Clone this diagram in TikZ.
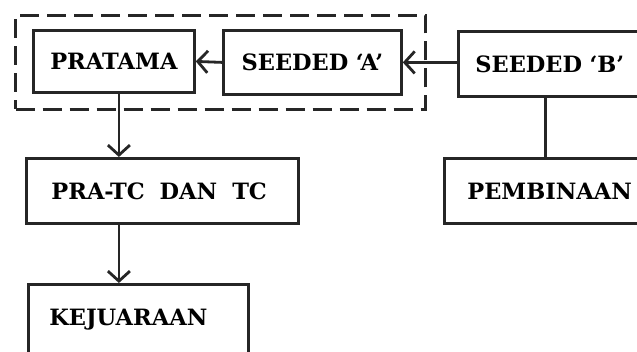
\documentclass[tikz,border=0pt]{standalone}
\usepackage{fontspec}
\setmainfont{DejaVu Serif}
\usetikzlibrary{arrows.meta,calc}
\begin{document}
\begin{tikzpicture}[x=1pt,y=-1pt,
  boxc/.style={draw=black!85,line width=2.8pt,rectangle,inner sep=0pt,anchor=north west,
    font=\fontsize{22.5}{25}\selectfont\bfseries,align=center},
  boxl/.style={boxc,align=left},
  arr/.style={draw=black!85,line width=2.8pt,-{Straight Barb[length=10pt,width=22pt,line width=2.8pt]}},
  lin/.style={draw=black!85,line width=2.8pt},
  grp/.style={draw=black!85,line width=3pt,dash pattern=on 19pt off 8pt}]
\useasboundingbox (0,0) rectangle (637,352);
\clip (0,0) rectangle (637,352);
\fill[white] (0,0) rectangle (637,352);
\node[grp,minimum width=410pt,minimum height=94pt,inner sep=0pt,anchor=north west] (grp) at (14,14) {};
\node[boxc,minimum width=161pt,minimum height=62pt,text width=161pt] (pratama) at (32,29) {PRATAMA};
\node[boxc,minimum width=178pt,minimum height=64pt,text width=178pt] (seedA) at (222,29) {SEEDED `A'};
\node[boxl,minimum width=200pt,minimum height=65pt,text width=166pt] (seedB) at (457,30) {SEEDED `B'};
\node[boxl,minimum width=272pt,minimum height=65pt,text width=222pt] (pratc) at (25,157) {PRA-TC\ \ DAN\ \ TC};
\node[boxl,minimum width=220pt,minimum height=70pt,text width=178pt] (kej) at (27,283) {KEJUARAAN};
\node[boxl,minimum width=220pt,minimum height=65pt,text width=174pt] (pemb) at (443,157) {PEMBINAAN};
\draw[arr] (seedA.west) -- (pratama.east);
\draw[arr] (seedB.west |- seedA.east) -- (seedA.east);
\coordinate (c1) at ($(pratama.south)+(5,0)$);
\draw[arr] (c1) -- (c1 |- pratc.north);
\coordinate (c2) at (c1 |- pratc.south);
\draw[arr] (c2) -- (c2 |- kej.north);
\coordinate (c3) at ($(seedB.south)+(-13,0)$);
\draw[lin] (c3) -- (c3 |- pemb.north);
\end{tikzpicture}
\end{document}
